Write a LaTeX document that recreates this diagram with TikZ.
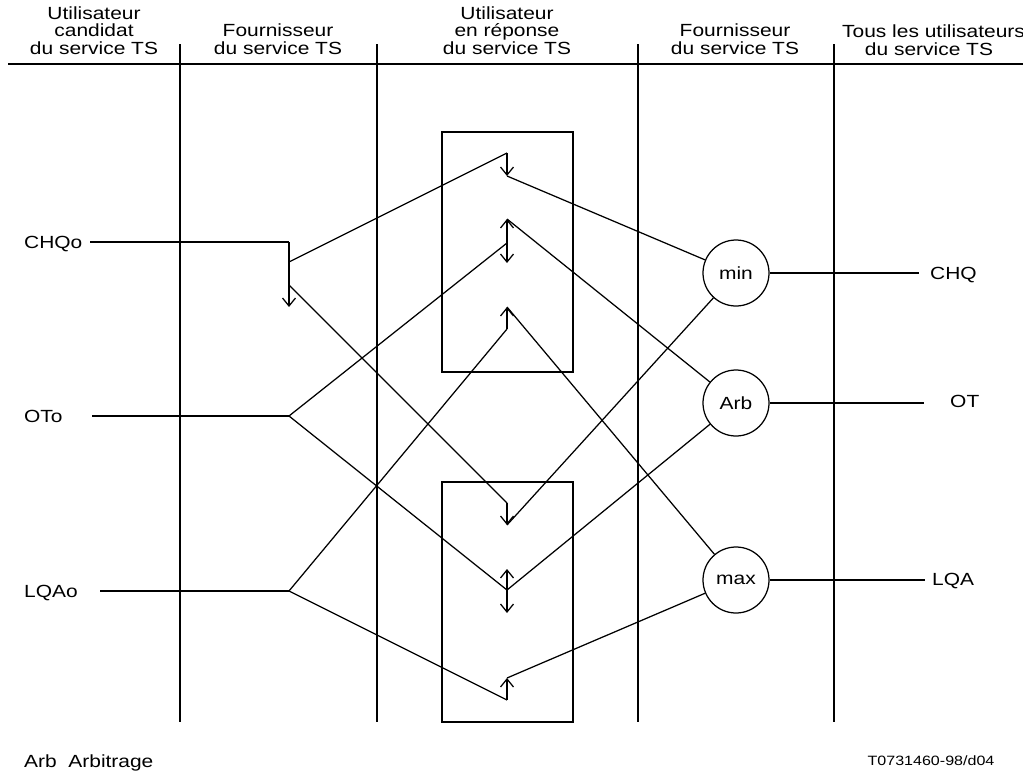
\documentclass[tikz,border=0pt]{standalone}
\usepackage{fontspec}
\setmainfont{Liberation Sans}[FakeStretch=1.19]
\usetikzlibrary{arrows.meta}
\begin{document}
\begin{tikzpicture}[x=1pt,y=-1pt,
  ln/.style={line width=1.25pt},
  tipend/.style={ln,-{Straight Barb[length=8pt,width=13pt,line width=1.25pt]}},
  tipboth/.style={ln,{Straight Barb[length=8pt,width=13pt,line width=1.25pt]}-{Straight Barb[length=8pt,width=13pt,line width=1.25pt]}},
  txt/.style={font=\fontsize{17.6}{17.7}\selectfont, inner sep=0pt},
  hdr/.style={txt, align=center, anchor=south},
  lbl/.style={txt, anchor=base west},
  fn/.style={circle, draw, ln, minimum size=66pt, inner sep=0pt, font=\fontsize{17.6}{17.7}\selectfont},
  grp/.style={draw, ln}
]
\useasboundingbox (0,0) rectangle (1023,771);

% column headings
\node[hdr] (h1) at (94,55) {Utilisateur\\candidat\\du service TS};
\node[hdr] (h2) at (278,55) {Fournisseur\\du service TS};
\node[hdr] (h3) at (507,55) {Utilisateur\\en réponse\\du service TS};
\node[hdr] (h4) at (735,55) {Fournisseur\\du service TS};
\node[txt, anchor=base west] (h5a) at (842,37.3) {Tous les utilisateurs};
\node[txt, anchor=base] (h5b) at (929,55) {du service TS};

% heading rule and column separators
\draw[ln] (8,64) -- (1030,64);
\foreach \cx in {180,377,638,834} \draw[ln] (\cx,44) -- (\cx,722);

% responder boxes
\draw[grp] (442,132) rectangle (573,372);
\draw[grp] (442,482) rectangle (573,722);

% proposed values on the left
\node[lbl] (lchq) at (24,248.5) {CHQo};
\node[lbl] (lot)  at (24,422) {OTo};
\node[lbl] (llqa) at (24,597) {LQAo};

% resulting values on the right
\node[lbl] (rchq) at (930,279.5) {CHQ};
\node[lbl] (rot)  at (950,407.5) {OT};
\node[lbl] (rlqa) at (932,585.5) {LQA};

% function circles
\node[fn] (min) at (736,273) {min};
\node[fn] (arb) at (736,403) {Arb};
\node[fn] (max) at (736,580) {max};

% provider junctions
\coordinate (chqIn) at (90,242);
\coordinate (chqJ)  at (289,242);
\coordinate (chqT)  at (289,307);
\coordinate (chqA)  at (289,262);
\coordinate (chqB)  at (289,285);
\coordinate (otIn)  at (92,416);
\coordinate (otJ)   at (289,416);
\coordinate (lqaIn) at (100,591);
\coordinate (lqaJ)  at (289,591);

% responder arrows, upper box
\coordinate (u1s) at (507,153); \coordinate (u1e) at (507,176);
\coordinate (u2a) at (507,219); \coordinate (u2m) at (507,243); \coordinate (u2b) at (507,263);
\coordinate (u3s) at (507,329); \coordinate (u3e) at (507,307);
% responder arrows, lower box
\coordinate (d1s) at (507,503); \coordinate (d1e) at (507,525);
\coordinate (d2a) at (507,569); \coordinate (d2m) at (507,590); \coordinate (d2b) at (507,613);
\coordinate (d3s) at (507,700); \coordinate (d3e) at (507,678);

% output stubs
\coordinate (oChq) at (919,273);
\coordinate (oOt)  at (924,403);
\coordinate (oLqa) at (925,580);

% left inputs
\draw[ln] (chqIn) -- (chqJ);
\draw[tipend] (chqJ) -- (chqT);
\draw[ln] (otIn) -- (otJ);
\draw[ln] (lqaIn) -- (lqaJ);

\draw[tipend] (u1s) -- (u1e);
\draw[tipboth] (u2b) -- (u2a);
\draw[tipend] (u3s) -- (u3e);
\draw[tipend] (d1s) -- (d1e);
\draw[tipboth] (d2b) -- (d2a);
\draw[tipend] (d3s) -- (d3e);

% CHQ paths
\draw[ln] (chqA) -- (u1s);
\draw[ln] (u1e) -- (min);
\draw[ln] (chqB) -- (d1s);
\draw[ln] (d1e) -- (min);
% OT paths
\draw[ln] (otJ) -- (u2m);
\draw[ln] (u2a) -- (arb);
\draw[ln] (otJ) -- (d2m);
\draw[ln] (d2m) -- (arb);
% LQA paths
\draw[ln] (lqaJ) -- (u3s);
\draw[ln] (u3e) -- (max);
\draw[ln] (lqaJ) -- (d3s);
\draw[ln] (d3e) -- (max);

% outputs
\draw[ln] (min) -- (oChq);
\draw[ln] (arb) -- (oOt);
\draw[ln] (max) -- (oLqa);

% footer
\node[lbl] (key) at (24,767.5) {Arb\ \ Arbitrage};
\node[txt, font=\fontsize{13.5}{14}\selectfont, anchor=base] (ref) at (931,765.5) {T0731460-98/d04};
\end{tikzpicture}
\end{document}
